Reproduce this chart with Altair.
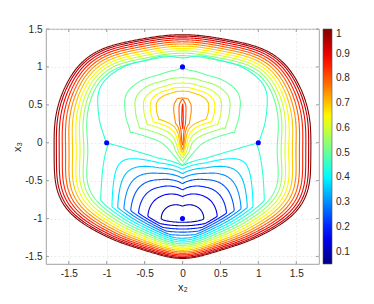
import numpy as np
import pandas as pd
import altair as alt

# ---------------- values ----------------
levels = [0.1, 0.15, 0.2, 0.25, 0.3, 0.35, 0.4, 0.45, 0.5, 0.55, 0.6, 0.65,
          0.7, 0.75, 0.8, 0.85, 0.9, 0.95, 1.0]
x_ticks = [-1.5, -1, -0.5, 0, 0.5, 1, 1.5]
y_ticks = [-1.5, -1, -0.5, 0, 0.5, 1, 1.5]
cbar_ticks = [0.1, 0.2, 0.3, 0.4, 0.5, 0.6, 0.7, 0.8, 0.9, 1]
dot_x = [0, -1, 1, 0]
dot_y = [1, 0, 0, -1]

# outer (level 1) contour, left half
edge_x = [0.0, -0.5, -1.08, -1.41, -1.5, -1.65, -1.68, -1.68, -1.6, -1.45, -1.22, -1.0, -0.5, 0.0]
edge_y = [1.42, 1.365, 1.22, 1.0, 0.79, 0.5, 0.0, -0.5, -0.75, -0.97, -1.12, -1.23, -1.41, -1.53]
# width of the steep outer layer (angle in degrees seen from (0,-0.05)), left half
layer_ang = [90, 130, 180, 200, 215, 235, 250, 270]
layer_w = [0.61, 0.72, 1.02, 0.95, 0.8, 0.6, 0.5, 0.42]
# the 0.45 line that runs from dot to dot over the top, left half
ring_x = [0.0, -0.5, -0.85, -1.05, -1.12, -1.1, -1.0, -0.95, -0.6, 0.0]
ring_y = [1.11, 1.08, 0.96, 0.8, 0.6, 0.35, 0.0, -0.4, -0.9, -1.0]
ring_level = 0.45
# lower bowl: upward growth factor against |x2|
bowl_wx = [0.0, 0.3, 0.55, 0.8, 0.97, 1.2]
bowl_wv = [0.79, 0.61, 0.39, 0.17, 0.025, 0.0]
bowl_min = 0.07
# upper plateau: level against relative distance from (0, 0.45)
plat_k = [0.0, 0.3, 0.38, 0.46, 0.56, 0.68, 1.0]
plat_v = [0.73, 0.705, 0.65, 0.6, 0.55, 0.5, 0.4505]
# ridge along x2 = 0
spike_y = [-0.35, -0.2, -0.1, 0.0, 0.3, 0.5, 0.58, 0.65]
spike_v = [0.45, 0.6, 0.76, 0.84, 0.87, 0.86, 0.8, 0.4]
notch_y = [-1.0, -0.85, -0.6, 0.5, 1.2]
notch_v = [0.0, 0.01, 0.03, 0.03, 0.02]

# jet colour map
jet_dom = [0.05, 0.16875, 0.40625, 0.64375, 0.88125, 1.0]
jet_col = ["#000080", "#0000ff", "#00ffff", "#ffff00", "#ff0000", "#800000"]

# ---------------- field built from the values above ----------------
NA = 1440
GRID_A = np.arange(NA) * 360.0 / NA


def lowpass(r, keep):
    c = np.fft.rfft(r)
    c[keep + 1:] = 0
    return np.fft.irfft(c, n=len(r))


def polar(px, py, cx, cy, keep=None):
    px = np.asarray(px, float)
    py = np.asarray(py, float)
    fx = np.concatenate([px, -px])
    fy = np.concatenate([py, py])
    ang = np.degrees(np.arctan2(fy - cy, fx - cx)) % 360
    rad = np.hypot(fx - cx, fy - cy)
    o = np.argsort(ang)
    r = np.interp(GRID_A, ang[o], rad[o], period=360)
    if keep:
        r = lowpass(r, keep)
    return r


def bowl(X, Y):
    ax = np.abs(X)
    lh = np.where(ax < 0.97, bowl_min + 0.38 * ax ** 2,
                  bowl_min + 0.38 * 0.97 ** 2 + 0.2 * (ax - 0.97))
    dy = Y + 1.0
    w = np.interp(ax, bowl_wx, bowl_wv)
    lv = np.where(dy >= 0, 0.9 * dy ** 2 * w,
                  1.25 * (np.sqrt(dy ** 2 + 0.0016) - 0.04))
    notch = np.interp(Y, notch_y, notch_v) * np.exp(-ax / 0.1)
    return lh + lv + notch


r_edge = polar(edge_x, edge_y, 0.0, -0.05, keep=12)
la = np.array(layer_ang, float)
w_ang = np.concatenate([la, (180 - la) % 360])
w_val = np.concatenate([layer_w, layer_w])
o = np.argsort(w_ang)
w_tab = lowpass(np.interp(GRID_A, w_ang[o], w_val[o], period=360), 6)

r_arc = polar(ring_x, ring_y, 0.0, 0.45, keep=16)
rr = np.arange(0.0, 2.6, 0.004)
th = np.radians(GRID_A)
TX = np.cos(th)[:, None] * rr[None, :]
TY = 0.45 + np.sin(th)[:, None] * rr[None, :]
below = bowl(TX, TY) < 0.45
r_low = np.where(below.any(axis=1), rr[np.argmax(below, axis=1)], 9.0)
gam = np.minimum(r_low, r_arc)

step = 0.013
xs = np.arange(-1.83, 1.83 + 1e-9, step)
ys = np.arange(-1.63, 1.53 + 1e-9, step)
X, Y = np.meshgrid(xs, ys)
AX = np.abs(X)

rC = np.hypot(X, Y + 0.05)
tC = np.degrees(np.arctan2(Y + 0.05, X)) % 360
R = np.interp(tC, GRID_A, r_edge, period=360)
W = np.interp(tC, GRID_A, w_tab, period=360)
d = R - rC
B1 = 1 - np.sign(d) * (np.abs(d) / W) ** 0.85

L = bowl(X, Y)
rP = np.hypot(X, Y - 0.45)
tP = np.degrees(np.arctan2(Y - 0.45, X)) % 360
G = np.interp(tP, GRID_A, gam, period=360)
kap = rP / G
P = np.interp(kap, plat_k, plat_v)
P = P + np.interp(Y, notch_y, notch_v) * np.exp(-AX / 0.1) * np.clip(5 * (1 - kap), 0, 1)
T = np.interp(Y, spike_y, spike_v)
P = P + np.maximum(0, T - P) * np.exp(-AX / 0.06)
cap = plat_v[-1] + 0.2 * (rP - G)
F = np.maximum(B1, np.where(kap < 1, P, np.minimum(L, cap)))

# ---------------- marching squares ----------------
PAIRS = {1: ("l", "b"), 2: ("b", "r"), 3: ("l", "r"), 4: ("r", "t"), 6: ("b", "t"),
         7: ("l", "t"), 8: ("t", "l"), 9: ("b", "t"), 11: ("r", "t"), 12: ("l", "r"),
         13: ("b", "r"), 14: ("l", "b")}


def march(Z, lev):
    ny, nx = Z.shape
    Bm = (Z >= lev).astype(int)
    code = Bm[:-1, :-1] + 2 * Bm[:-1, 1:] + 4 * Bm[1:, 1:] + 8 * Bm[1:, :-1]
    jj, ii = np.nonzero((code > 0) & (code < 15))
    pts = {}

    def pt(key):
        if key in pts:
            return pts[key]
        idx, kind = divmod(key, 2)
        j, i = divmod(idx, nx)
        if kind == 0:
            z0, z1 = Z[j, i], Z[j, i + 1]
            t = (lev - z0) / (z1 - z0)
            p = (xs[i] + t * step, ys[j])
        else:
            z0, z1 = Z[j, i], Z[j + 1, i]
            t = (lev - z0) / (z1 - z0)
            p = (xs[i], ys[j] + t * step)
        pts[key] = p
        return p

    segs = []
    for j, i in zip(jj, ii):
        c = code[j, i]
        e = {"b": (j * nx + i) * 2, "t": ((j + 1) * nx + i) * 2,
             "l": (j * nx + i) * 2 + 1, "r": (j * nx + i + 1) * 2 + 1}
        if c in (5, 10):
            center = (Z[j, i] + Z[j, i + 1] + Z[j + 1, i + 1] + Z[j + 1, i]) / 4 >= lev
            if (c == 5) == bool(center):
                segs += [(e["b"], e["r"]), (e["t"], e["l"])]
            else:
                segs += [(e["l"], e["b"]), (e["r"], e["t"])]
        else:
            a, b = PAIRS[c]
            segs.append((e[a], e[b]))
    adj = {}
    for s, (a, b) in enumerate(segs):
        adj.setdefault(a, []).append(s)
        adj.setdefault(b, []).append(s)
    used = [False] * len(segs)
    out = []
    for s0 in range(len(segs)):
        if used[s0]:
            continue
        used[s0] = True
        chain = [segs[s0][0], segs[s0][1]]
        for _ in range(2):
            while True:
                end = chain[-1]
                nxt = None
                for s in adj[end]:
                    if not used[s]:
                        nxt = s
                        break
                if nxt is None:
                    break
                used[nxt] = True
                a, b = segs[nxt]
                chain.append(b if a == end else a)
            chain.reverse()
        out.append([pt(k) for k in chain])
    return out


rows = []
pid = 0
for lev in levels:
    for line in march(F, lev):
        for k, (px, py) in enumerate(line):
            rows.append((round(float(px), 4), round(float(py), 4), lev, pid, k))
        pid += 1

# the 0.45 valley line from the right dot over the top to the left dot
a_r = np.degrees(np.arctan2(dot_y[2] - 0.45, dot_x[2] - 0.0))
a_l = np.degrees(np.arctan2(dot_y[1] - 0.45, dot_x[1] - 0.0)) % 360
arc_a = np.linspace(a_r, a_l, 260)
arc_r = np.interp(arc_a % 360, GRID_A, r_arc, period=360)
arc_px = arc_r * np.cos(np.radians(arc_a))
arc_py = 0.45 + arc_r * np.sin(np.radians(arc_a))
arc_px[0], arc_py[0] = dot_x[2], dot_y[2]
arc_px[-1], arc_py[-1] = dot_x[1], dot_y[1]
for k, (px, py) in enumerate(zip(arc_px, arc_py)):
    rows.append((round(float(px), 4), round(float(py), 4), ring_level, pid, k))
pid += 1

df = pd.DataFrame(rows, columns=["x", "y", "lev", "pid", "k"])

# ---------------- chart ----------------
FONT = "Liberation Sans"
TXT = "#262626"
xsc = alt.Scale(domain=[-1.8, 1.8], nice=False, zero=False)
ysc = alt.Scale(domain=[-1.6, 1.5], nice=False, zero=False)
xax = alt.Axis(values=x_ticks, labelExpr="datum.value", title="x₂", titlePadding=3)
yax = alt.Axis(values=y_ticks, labelExpr="datum.value", title="x₃", titlePadding=2)

lines = alt.Chart(df).mark_line(strokeWidth=1.1, clip=True).encode(
    x=alt.X("x:Q", scale=xsc, axis=xax),
    y=alt.Y("y:Q", scale=ysc, axis=yax),
    color=alt.Color("lev:Q",
                    scale=alt.Scale(domain=jet_dom, range=jet_col, interpolate="rgb"),
                    legend=alt.Legend(orient="none", legendX=277, legendY=0,
                                      direction="vertical", title=None,
                                      gradientLength=235, gradientThickness=9,
                                      values=cbar_ticks, labelExpr="datum.value",
                                      labelFont=FONT, labelFontSize=10, labelColor=TXT,
                                      gradientStrokeColor="#555555",
                                      gradientStrokeWidth=0.6, labelOffset=4)),
    detail="pid:N",
    order="k:Q",
)

dots = alt.Chart(pd.DataFrame({"x": dot_x, "y": dot_y})).mark_circle(
    size=26, color="#0000ff", opacity=1).encode(
    x=alt.X("x:Q", scale=xsc, axis=xax), y=alt.Y("y:Q", scale=ysc, axis=yax))

tx = pd.DataFrame({"x": x_ticks})
ty = pd.DataFrame({"y": y_ticks})
tick_col = "#8a8a8a"
xb = alt.Chart(tx).mark_rule(color=tick_col, strokeWidth=0.8).encode(
    x=alt.X("x:Q", scale=xsc, axis=xax), y=alt.value(235), y2=alt.value(232))
xt = alt.Chart(tx).mark_rule(color=tick_col, strokeWidth=0.8).encode(
    x=alt.X("x:Q", scale=xsc, axis=xax), y=alt.value(0), y2=alt.value(3))
yl = alt.Chart(ty).mark_rule(color=tick_col, strokeWidth=0.8).encode(
    y=alt.Y("y:Q", scale=ysc, axis=yax), x=alt.value(0), x2=alt.value(3))
yr = alt.Chart(ty).mark_rule(color=tick_col, strokeWidth=0.8).encode(
    y=alt.Y("y:Q", scale=ysc, axis=yax), x=alt.value(273), x2=alt.value(270))

chart = alt.layer(lines, dots, xb, xt, yl, yr).properties(
    width=273, height=235,
    autosize=alt.AutoSizeParams(type="none"),
    padding={"left": 38, "top": 21, "right": 44, "bottom": 32},
).configure_view(stroke="#8a8a8a", strokeWidth=0.8).configure_axis(
    labelFont=FONT, labelFontSize=10, labelColor=TXT,
    titleFont=FONT, titleFontSize=11, titleFontWeight="normal", titleColor=TXT,
    domain=False, ticks=False, labelPadding=4,
    grid=True, gridColor="#e3e3e3", gridDash=[2, 2], gridWidth=0.7,
)

chart.save("out.html", embed_options={"renderer": "svg", "actions": False})
